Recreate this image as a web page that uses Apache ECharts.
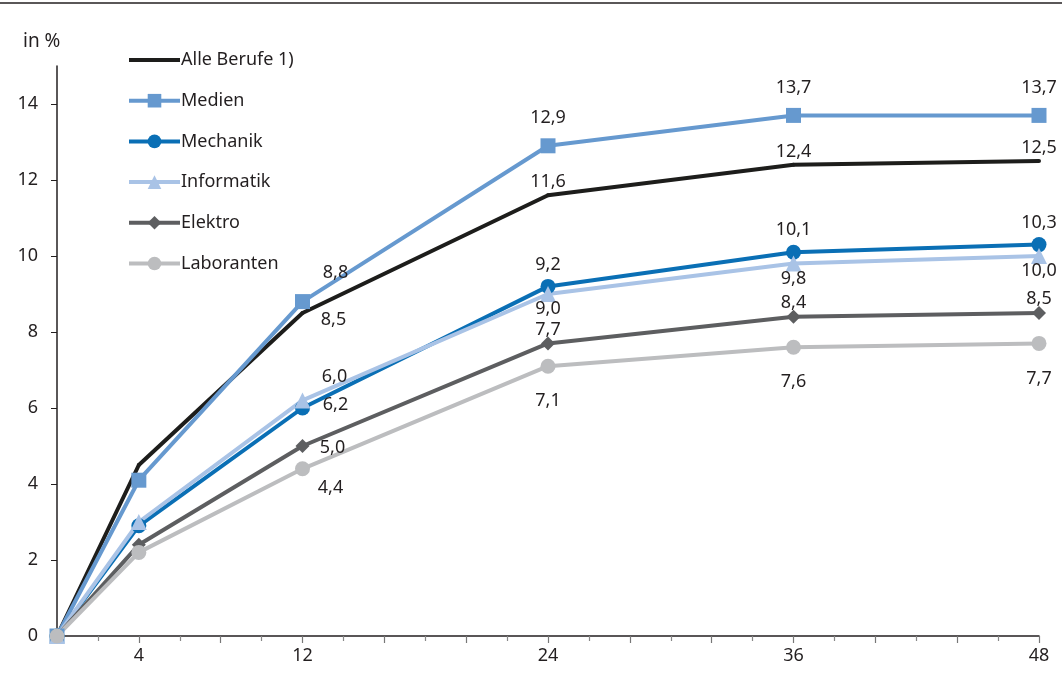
<!DOCTYPE html>
<html>
<head>
<meta charset="utf-8">
<script src="https://cdn.jsdelivr.net/npm/echarts@6/dist/echarts.min.js"></script>
<style>
  html, body { margin: 0; padding: 0; background: #fff; }
  #main { width: 1062px; height: 683px; }
</style>
</head>
<body>
<div id="main"></div>
<script>
// Monate (x) und Anteile in %
var months = [0, 4, 12, 24, 36, 48];
var xTickLabels = [4, 12, 24, 36, 48];
var yTickLabels = [0, 2, 4, 6, 8, 10, 12, 14];

var seriesNames = ['Alle Berufe 1)', 'Medien', 'Mechanik', 'Informatik', 'Elektro', 'Laboranten'];
var alleBerufe = [0, 4.5, 8.5, 11.6, 12.4, 12.5];
var medien     = [0, 4.1, 8.8, 12.9, 13.7, 13.7];
var mechanik   = [0, 2.9, 6.0, 9.2, 10.1, 10.3];
var informatik = [0, 3.0, 6.2, 9.0, 9.8, 10.0];
var elektro    = [0, 2.4, 5.0, 7.7, 8.4, 8.5];
var laboranten = [0, 2.2, 4.4, 7.1, 7.6, 7.7];

var FONT = 'Noto Sans';
var TXT = '#231f20';

function fmt(v){
    return v.toFixed(1).replace('.', ',');
}

// Punkte mit Beschriftung erst ab Monat 12; bei 12 rechts daneben
function makeData(values, dy, off12){
    var out = [];
    for (var i = 0; i < months.length; i++) {
        var item = { value: [months[i], values[i]] };
        if (months[i] < 12) {
            item.label = { show: false };
        } else if (months[i] === 12) {
            item.label = { offset: off12 };
        } else {
            item.label = { offset: [0, dy] };
        }
        out.push(item);
    }
    return out;
}

function labelStyle(){
    return {
        show: true,
        position: 'inside',
        fontFamily: FONT,
        fontSize: 18,
        color: TXT,
        opacity: 1,
        textBorderWidth: 0,
        formatter: function(p){ return fmt(p.value[1]); }
    };
}

function makeSeries(name, values, color, symbol, size, dy, off12){
    return {
        name: name,
        type: 'line',
        data: makeData(values, dy, off12),
        symbol: symbol,
        symbolSize: size,
        showAllSymbol: true,
        lineStyle: { color: color, width: 4 },
        itemStyle: { color: color },
        label: labelStyle(),
        emphasis: { disabled: true },
        animation: false
    };
}

var alleLine = makeSeries(seriesNames[0], alleBerufe, '#1d1d1b', 'none', 1, 0, [0, 0]);
alleLine.label = { show: false };

// Beschriftung der schwarzen Linie (Linie hat keine Symbole)
var alleLabels = {
    name: 'alleLabels',
    type: 'scatter',
    data: makeData(alleBerufe, -13, [31, 7]),
    symbol: 'circle',
    symbolSize: 4,
    itemStyle: { color: '#1d1d1b', opacity: 1 },
    label: labelStyle(),
    emphasis: { disabled: true },
    silent: true,
    animation: false
};

// Legendensymbol nur als dicke Linie (Rahmenpunkte halten die Box 51x17)
var lineIcon = 'path://M0,0 L0.01,0 L0.01,0.01 Z M0,6.5 L51,6.5 L51,10.5 L0,10.5 Z M50.99,16.99 L51,16.99 L51,17 Z';

var myChart = echarts.init(document.getElementById('main'));
var option = {
    animation: false,
    backgroundColor: '#fff',
    title: {
        text: 'in %',
        left: 18,
        top: 27,
        textStyle: { fontFamily: FONT, fontSize: 19, fontWeight: 'normal', color: TXT }
    },
    graphic: [{
        type: 'line',
        shape: { x1: 0, y1: 3, x2: 1062, y2: 3 },
        style: { stroke: '#231f20', lineWidth: 1.5 }
    }],
    legend: {
        orient: 'vertical',
        left: 127,
        top: 51,
        itemWidth: 51,
        itemHeight: 17,
        itemGap: 22.7,
        padding: 0,
        data: [{ name: seriesNames[0], icon: lineIcon }].concat(seriesNames.slice(1)),
        lineStyle: { width: 4 },
        textStyle: { fontFamily: FONT, fontSize: 18, color: TXT, padding: [0, 0, 0, -4] }
    },
    grid: { left: 57, right: 23, top: 66, bottom: 47, containLabel: false },
    xAxis: {
        type: 'value',
        min: 0,
        max: 48,
        interval: 4,
        axisLine: { lineStyle: { color: TXT, width: 1.5 } },
        axisTick: { show: true, length: 7, lineStyle: { color: '#777', width: 1.2 } },
        minorTick: { show: true, splitNumber: 2, length: 5, lineStyle: { color: '#888', width: 1.2 } },
        splitLine: { show: false },
        axisLabel: {
            margin: 11,
            fontFamily: FONT, fontSize: 18, color: TXT,
            formatter: function(v){ return xTickLabels.indexOf(v) >= 0 ? String(v) : ''; }
        }
    },
    yAxis: {
        type: 'value',
        min: 0,
        max: 15,
        interval: 2,
        axisLine: { show: true, lineStyle: { color: TXT, width: 1.5 } },
        axisTick: { show: true, length: 6, lineStyle: { color: TXT }, customValues: yTickLabels },
        splitLine: { show: false },
        axisLabel: {
            margin: 19,
            fontFamily: FONT, fontSize: 18, color: TXT,
            customValues: yTickLabels
        }
    },
    series: [
        alleLine,
        makeSeries(seriesNames[1], medien, '#6699cf', 'rect', 15, -28, [33, -29]),
        makeSeries(seriesNames[2], mechanik, '#0a6fb5', 'circle', 15, -22, [32, -31]),
        makeSeries(seriesNames[3], informatik, '#a9c3e6', 'triangle', 16, 15, [33, 4]),
        makeSeries(seriesNames[4], elektro, '#5d5e60', 'diamond', 14, -14, [30, 2]),
        makeSeries(seriesNames[5], laboranten, '#bcbdbf', 'circle', 15, 35, [28, 19]),
        alleLabels
    ]
};
myChart.setOption(option);
window.onresize = myChart.resize;
</script>
</body>
</html>
